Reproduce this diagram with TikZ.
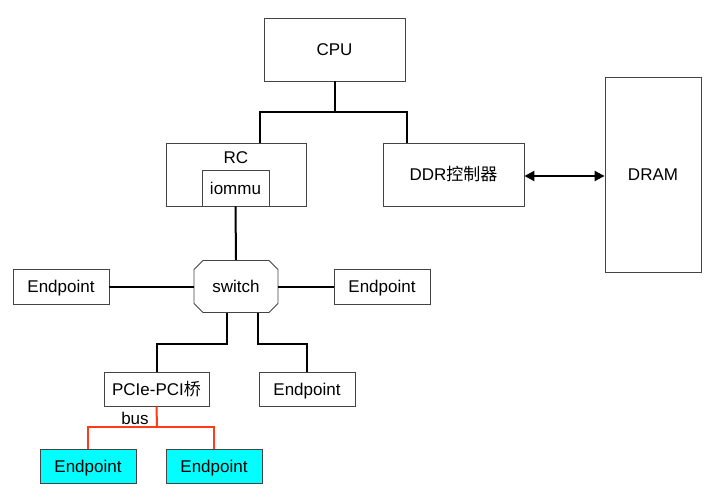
\documentclass[tikz,border=0pt]{standalone}
\usepackage{fontspec}
\setmainfont{Liberation Sans}
\newfontfamily\cjk{Noto Sans CJK SC}
\usetikzlibrary{shapes.misc,arrows.meta}
\definecolor{boxline}{HTML}{444444}
\definecolor{redline}{HTML}{FF3B1A}
\definecolor{cyanfill}{HTML}{00FFFF}
\begin{document}
\begin{tikzpicture}[x=1pt,y=-1pt,
  every node/.style={font=\fontsize{17}{20}\selectfont,text height=12.2pt,text depth=0pt},
  box/.style={draw=boxline,line width=0.9pt,fill=white,inner sep=0pt},
  conn/.style={line width=2pt,black},
  redconn/.style={line width=2pt,redline}]
\useasboundingbox (0,0) rectangle (720,503);
% nodes
\node[box,minimum width=141pt,minimum height=63pt] (cpu) at (334.5,49.5) {CPU};
\node[box,minimum width=140pt,minimum height=63pt] (rc) at (236,174.5) {};
\node (rclab) at (236,157) {RC};
\node[box,minimum width=67pt,minimum height=36pt] (iommu) at (235.5,188) {iommu};
\node[box,minimum width=141pt,minimum height=63pt] (ddr) at (453.5,174.5) {DDR{\cjk 控制器}};
\node[box,minimum width=96pt,minimum height=195pt] (dram) at (653,174.5) {DRAM};
\node[box,chamfered rectangle,chamfered rectangle xsep=4.5pt,chamfered rectangle ysep=4.5pt,minimum width=84pt,minimum height=52pt] (sw) at (236,286.5) {switch};
\node[box,minimum width=96pt,minimum height=35pt] (epl) at (61,286.5) {Endpoint};
\node[box,minimum width=96pt,minimum height=35pt] (epr) at (382,286.5) {Endpoint};
\node[box,minimum width=105pt,minimum height=34pt] (pcie) at (156.5,389) {PCIe-PCI{\cjk 桥}};
\node[box,minimum width=96pt,minimum height=34pt] (epm) at (307,389) {Endpoint};
\node[box,fill=cyanfill,minimum width=96pt,minimum height=34pt] (c1) at (88,466) {Endpoint};
\node[box,fill=cyanfill,minimum width=96pt,minimum height=34pt] (c2) at (214,466) {Endpoint};
% connectors
\coordinate (j1) at (334.5,112);
\draw[conn] (cpu.south) -- (j1);
\draw[conn] (j1) -| ([xshift=24pt]rc.north);
\draw[conn] (j1) -| ([xshift=-46.5pt]ddr.north);
\draw[conn] (iommu.south) -- (sw.north);
\draw[conn] (epl.east) -- (sw.west);
\draw[conn] (sw.east) -- (epr.west);
\draw[conn] ([xshift=-9pt]sw.south) -- ++(0,31) -| (pcie.north);
\draw[conn] ([xshift=22pt]sw.south) -- ++(0,31) -| (epm.north);
\draw[line width=2pt,{Triangle[length=10pt,width=10pt]}-{Triangle[length=10pt,width=10pt]}] ([yshift=-1.5pt]ddr.east) -- ([yshift=-1.5pt]dram.west);
\coordinate (b) at (157,427);
\draw[redconn] (pcie.south) -- (b);
\draw[redconn] (b) -| (c1.north);
\draw[redconn] (b) -| (c2.north);
\node (buslab) at (135,418) {bus};
\end{tikzpicture}
\end{document}
